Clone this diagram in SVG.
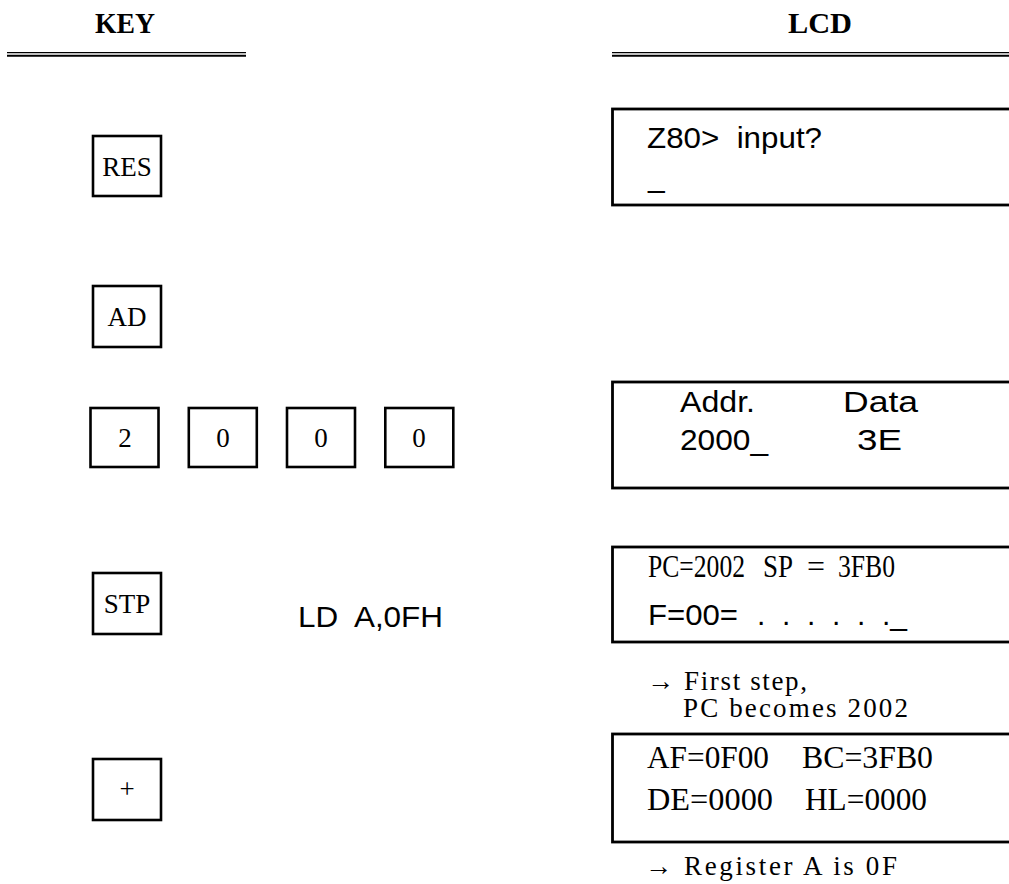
<svg xmlns="http://www.w3.org/2000/svg" width="1009" height="884" viewBox="0 0 1009 884">
<style>
.hdr{font-family:"Liberation Serif","Times New Roman",serif;font-weight:bold;font-size:30px;fill:#000}
.key rect{fill:#fff;stroke:#000;stroke-width:2.6}
.kt{font-family:"Liberation Serif","Times New Roman",serif;font-size:27px;fill:#000;text-anchor:middle}
.lcd{fill:#fff;stroke:#000;stroke-width:2.8}
.a{font-family:"Liberation Sans",Arial,sans-serif;font-size:30px;fill:#000}
.t{font-family:"Liberation Serif","Times New Roman",serif;font-size:31px;fill:#000}
.n{font-family:"Liberation Serif","DejaVu Serif",serif;font-size:27px;fill:#000}
.dl{stroke:#000}
</style>
<rect width="1009" height="884" fill="#fff"/>
<g id="header-key">
<text class="hdr" x="95" y="33" textLength="60" lengthAdjust="spacingAndGlyphs">KEY</text>
<line class="dl" x1="7" y1="52.6" x2="246" y2="52.6" stroke-width="1.2"/>
<line class="dl" x1="7" y1="55.8" x2="246" y2="55.8" stroke-width="2"/>
</g>
<g id="header-lcd">
<text class="hdr" x="788" y="33" textLength="64" lengthAdjust="spacingAndGlyphs">LCD</text>
<line class="dl" x1="612" y1="52.6" x2="1009" y2="52.6" stroke-width="1.2"/>
<line class="dl" x1="612" y1="55.8" x2="1009" y2="55.8" stroke-width="2"/>
</g>
<g id="key-res" class="key"><rect x="93" y="136" width="68" height="60"/><text class="kt" x="127" y="176">RES</text></g>
<g id="key-ad" class="key"><rect x="93" y="286" width="68" height="61"/><text class="kt" x="127" y="326">AD</text></g>
<g id="key-2" class="key"><rect x="90.5" y="408" width="68" height="59"/><text class="kt" x="125" y="447">2</text></g>
<g id="key-0a" class="key"><rect x="188.8" y="408" width="68" height="59"/><text class="kt" x="223" y="447">0</text></g>
<g id="key-0b" class="key"><rect x="287" y="408" width="68" height="59"/><text class="kt" x="321" y="447">0</text></g>
<g id="key-0c" class="key"><rect x="385.3" y="408" width="68" height="59"/><text class="kt" x="419" y="447">0</text></g>
<g id="key-stp" class="key"><rect x="93" y="573" width="68" height="61"/><text class="kt" x="127" y="613">STP</text></g>
<g id="key-plus" class="key"><rect x="93" y="759" width="68" height="61"/><text class="kt" x="127" y="798">+</text></g>
<g id="instr"><text class="a" x="298" y="627" font-size="31" textLength="145" lengthAdjust="spacingAndGlyphs" xml:space="preserve">LD  A,0FH</text></g>
<g id="lcd-1">
<rect class="lcd" x="612.5" y="109" width="420" height="96"/>
<text class="a" x="647" y="148" textLength="175" lengthAdjust="spacingAndGlyphs" xml:space="preserve">Z80>  input?</text>
<text class="a" x="648" y="187">_</text>
</g>
<g id="lcd-2">
<rect class="lcd" x="612.5" y="382" width="420" height="106"/>
<text class="a" x="680" y="412" textLength="75" lengthAdjust="spacingAndGlyphs">Addr.</text>
<text class="a" x="843" y="412" textLength="75" lengthAdjust="spacingAndGlyphs">Data</text>
<text class="a" x="680" y="450" textLength="88" lengthAdjust="spacingAndGlyphs">2000_</text>
<text class="a" x="857" y="450" textLength="45" lengthAdjust="spacingAndGlyphs">3E</text>
</g>
<g id="lcd-3">
<rect class="lcd" x="612.5" y="547" width="420" height="95"/>
<text class="t" x="648" y="577" textLength="97" lengthAdjust="spacingAndGlyphs">PC=2002</text>
<text class="t" x="763" y="577" textLength="30" lengthAdjust="spacingAndGlyphs">SP</text>
<text class="t" x="807" y="577" textLength="18" lengthAdjust="spacingAndGlyphs">=</text>
<text class="t" x="838" y="577" textLength="57" lengthAdjust="spacingAndGlyphs">3FB0</text>
<text class="a" x="648" y="625" textLength="90" lengthAdjust="spacingAndGlyphs">F=00=</text>
<text class="a" x="757" y="625" xml:space="preserve">.  .  .  .  .  ._</text>
</g>
<g id="note-1">
<text class="n" x="647" y="690" textLength="160" lengthAdjust="spacing">→ First step,</text>
<text class="n" x="683" y="717" textLength="225" lengthAdjust="spacing">PC becomes 2002</text>
</g>
<g id="lcd-4">
<rect class="lcd" x="612.5" y="734" width="420" height="108"/>
<text class="t" x="647" y="768" textLength="122" lengthAdjust="spacingAndGlyphs">AF=0F00</text>
<text class="t" x="802" y="768" textLength="131" lengthAdjust="spacingAndGlyphs">BC=3FB0</text>
<text class="t" x="647" y="810" textLength="126" lengthAdjust="spacingAndGlyphs">DE=0000</text>
<text class="t" x="805" y="810" textLength="122" lengthAdjust="spacingAndGlyphs">HL=0000</text>
</g>
<g id="note-2">
<text class="n" x="645" y="875" textLength="252" lengthAdjust="spacing">→ Register A is 0F</text>
</g>
<g id="connectors"></g>
</svg>
